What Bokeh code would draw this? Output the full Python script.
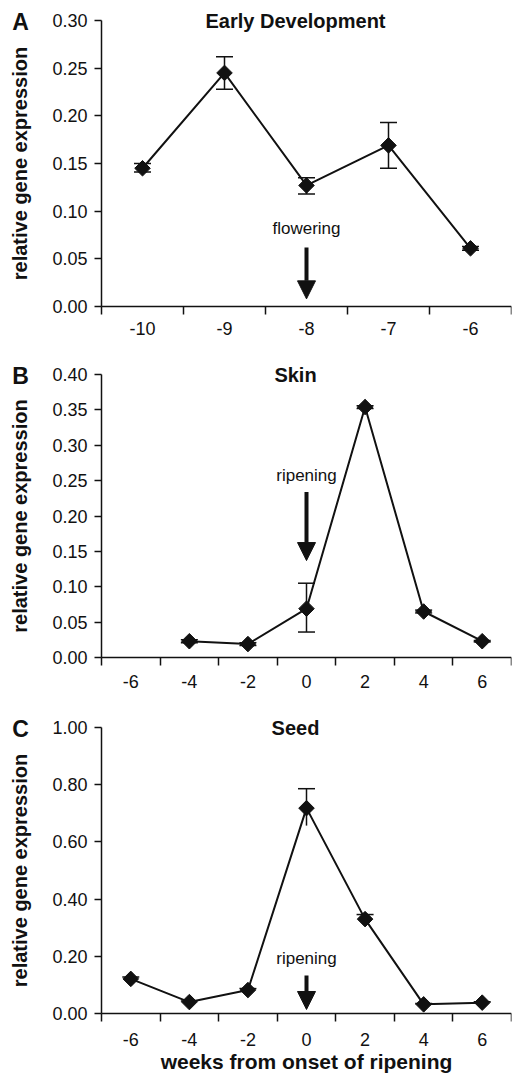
from bokeh.plotting import figure
from bokeh.layouts import column
from bokeh.models import (Range1d, FixedTicker, NumeralTickFormatter, Label, Arrow,
                          NormalHead, Whisker, TeeHead, ColumnDataSource, LinearAxis)
from bokeh.embed import file_html
from bokeh.resources import INLINE

# ---------------- data ----------------
A_weeks = [-10, -9, -8, -7, -6]
A_expr = [0.145, 0.245, 0.127, 0.169, 0.061]
A_upper = [0.150, 0.262, 0.135, 0.193, 0.063]
A_lower = [0.141, 0.228, 0.118, 0.145, 0.059]

B_weeks = [-4, -2, 0, 2, 4, 6]
B_expr = [0.023, 0.019, 0.069, 0.354, 0.065, 0.023]
B_upper = [0.025, 0.021, 0.105, 0.356, 0.067, 0.024]
B_lower = [0.021, 0.017, 0.036, 0.352, 0.063, 0.022]

C_weeks = [-6, -4, -2, 0, 2, 4, 6]
C_expr = [0.121, 0.040, 0.082, 0.718, 0.330, 0.032, 0.038]
C_upper = [0.128, 0.044, 0.087, 0.786, 0.346, 0.035, 0.041]
C_lower = [0.114, 0.036, 0.077, 0.657, 0.314, 0.029, 0.035]

A_ticks = [-10, -9, -8, -7, -6]
A_tick_labels = ["-10", "-9", "-8", "-7", "-6"]
BC_ticks = [-6, -4, -2, 0, 2, 4, 6]
BC_tick_labels = ["-6", "-4", "-2", "0", "2", "4", "6"]

FONT = "Liberation Sans"
INK = "#111111"

FIG_W = 515
AXIS_X = 101      # page x of the y axis
FRAME_R = 511     # page x of the right end of the x axis


def make_panel(height, extra_top, plot_h, weeks, expr, upper, lower,
               ticks, tick_labels, step, ymax, ytick_step, title, letter,
               note, note_y, arr_x, arr_y0, arr_y1, xlabel=None, lower_cap=True,
               label_standoff=6):
    half = step / 2.0
    lo, hi = ticks[0] - half, ticks[-1] + half
    span_px = FRAME_R - AXIS_X
    x_pad = (hi - lo) * AXIS_X / span_px
    bottom_px = height - extra_top - plot_h
    y_top = ymax * extra_top / plot_h
    y_bot = ymax * bottom_px / plot_h
    xr = Range1d(lo - x_pad, hi)
    yr = Range1d(-y_bot, ymax + y_top)
    p = figure(width=FIG_W, height=height, x_range=xr, y_range=yr,
               output_backend="svg", toolbar_location=None,
               x_axis_location=None, y_axis_location=None,
               min_border_left=0, min_border_right=FIG_W - FRAME_R,
               min_border_top=0, min_border_bottom=0)
    p.outline_line_color = None
    p.xgrid.visible = False
    p.ygrid.visible = False
    p.background_fill_color = "white"
    p.border_fill_color = "white"

    # x axis: labels at category centres, tick marks at category boundaries
    bounds = [t - half for t in ticks] + [hi]
    xa = LinearAxis(fixed_location=0, bounds=(lo, hi),
                    ticker=FixedTicker(ticks=ticks, minor_ticks=bounds))
    xa.major_label_overrides = {t: s for t, s in zip(ticks, tick_labels)}
    xa.major_tick_line_color = None
    xa.major_tick_out = 8
    xa.major_tick_in = 0
    xa.minor_tick_line_color = INK
    xa.minor_tick_line_width = 1.5
    xa.minor_tick_out = 8
    xa.minor_tick_in = 0
    xa.axis_line_color = INK
    xa.axis_line_width = 1.5
    xa.major_label_text_font = FONT
    xa.major_label_text_font_size = "18px"
    xa.major_label_text_color = INK
    xa.major_label_standoff = label_standoff
    if xlabel:
        xa.axis_label = xlabel
        xa.axis_label_text_font = FONT
        xa.axis_label_text_font_style = "bold"
        xa.axis_label_text_font_size = "21px"
        xa.axis_label_text_color = INK
        xa.axis_label_standoff = 1
    p.add_layout(xa, "below")

    n = int(round(ymax / ytick_step))
    ya = LinearAxis(fixed_location=lo, bounds=(0, ymax),
                    ticker=FixedTicker(ticks=[round(i * ytick_step, 4) for i in range(n + 1)]),
                    formatter=NumeralTickFormatter(format="0.00"))
    ya.major_tick_out = 7
    ya.major_tick_in = 0
    ya.major_tick_line_color = INK
    ya.major_tick_line_width = 1.5
    ya.minor_tick_line_color = None
    ya.axis_line_color = INK
    ya.axis_line_width = 1.5
    ya.major_label_text_font = FONT
    ya.major_label_text_font_size = "18px"
    ya.major_label_text_color = INK
    ya.major_label_standoff = 7
    ya.axis_label = "relative gene expression"
    ya.axis_label_text_font = FONT
    ya.axis_label_text_font_style = "bold"
    ya.axis_label_text_font_size = "20px"
    ya.axis_label_text_color = INK
    ya.axis_label_standoff = 18
    p.add_layout(ya, "left")

    src = ColumnDataSource(dict(x=weeks, y=expr, up=upper, lo=lower))
    p.line("x", "y", source=src, line_color=INK, line_width=2)
    wk = Whisker(base="x", upper="up", lower="lo", source=src, dimension="height",
                 line_color=INK, line_width=1.5,
                 upper_head=TeeHead(size=17, line_color=INK, line_width=1.5),
                 lower_head=TeeHead(size=17, line_color=INK, line_width=1.5) if lower_cap else None)
    p.add_layout(wk)
    p.scatter("x", "y", source=src, marker="square", angle=0.785398, size=11,
              fill_color=INK, line_color=INK, line_width=1)

    # title, panel letter, annotation
    p.add_layout(Label(x=(ticks[0] + ticks[-1]) / 2.0, x_offset=-11, y=ymax, text=title,
                       text_font=FONT, text_font_style="bold", text_font_size="20px",
                       text_color=INK, text_align="center", text_baseline="middle"))
    p.add_layout(Label(x=lo, x_offset=-81, y=ymax, y_offset=-1, text=letter,
                       text_font=FONT, text_font_style="bold", text_font_size="23px",
                       text_color=INK, text_align="center", text_baseline="middle"))
    p.add_layout(Label(x=arr_x, y=note_y, text=note, text_font=FONT,
                       text_font_size="17px", text_color=INK,
                       text_align="center", text_baseline="middle"))
    p.add_layout(Arrow(end=NormalHead(size=18, fill_color=INK, line_color=INK),
                       x_start=arr_x, y_start=arr_y0, x_end=arr_x, y_end=arr_y1,
                       line_color=INK, line_width=4))
    return p


# panel A: page y 0..355, axis top 20, axis bottom 306
pA = make_panel(355, 20, 286, A_weeks, A_expr, A_upper, A_lower,
                A_ticks, A_tick_labels, 1, 0.30, 0.05, "Early Development", "A",
                "flowering", 0.082, -8, 0.062, 0.008, label_standoff=7)
# panel B: page y 355..700, axis top 374, bottom 657
pB = make_panel(345, 19, 283, B_weeks, B_expr, B_upper, B_lower,
                BC_ticks, BC_tick_labels, 2, 0.40, 0.05, "Skin", "B",
                "ripening", 0.257, 0, 0.234, 0.137, label_standoff=9)
# panel C: page y 700..1081, axis top 727, bottom 1013
pC = make_panel(381, 27, 286, C_weeks, C_expr, C_upper, C_lower,
                BC_ticks, BC_tick_labels, 2, 1.00, 0.20, "Seed", "C",
                "ripening", 0.192, 0, 0.133, 0.014,
                xlabel="weeks from onset of ripening", lower_cap=False,
                label_standoff=11)

layout = column(pA, pB, pC, spacing=0)
open("out.html", "w").write(file_html(layout, INLINE))
